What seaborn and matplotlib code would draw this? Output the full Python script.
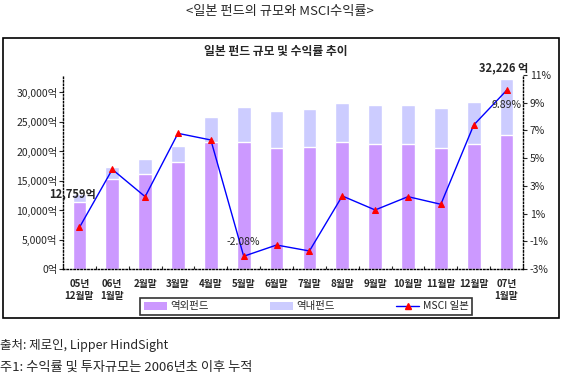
import matplotlib
matplotlib.use("Agg")
import matplotlib.pyplot as plt
import seaborn as sns
import pandas as pd
import numpy as np
from matplotlib.patches import Rectangle, Patch
from matplotlib.lines import Line2D

categories = ["05년\n12월말", "06년\n1월말", "2월말", "3월말", "4월말", "5월말", "6월말",
              "7월말", "8월말", "9월말", "10월말", "11월말", "12월말", "07년\n1월말"]
offshore = [11400, 15200, 16150, 18190, 21580, 21580, 20510, 20680, 21580, 21190, 21190, 20510, 21190, 22710]
total = [12759, 17340, 18700, 20900, 25760, 27460, 26780, 27120, 28140, 27800, 27800, 27290, 28300, 32226]
msci = [0.0, 4.19, 2.22, 6.79, 6.31, -2.08, -1.27, -1.70, 2.27, 1.26, 2.22, 1.67, 7.39, 9.89]
left_ticks = [0, 5000, 10000, 15000, 20000, 25000, 30000]
right_ticks = [-3, -1, 1, 3, 5, 7, 9, 11]

sns.set_theme(style="white")
plt.rcParams['font.family'] = ['Noto Sans CJK KR', 'DejaVu Sans']

df = pd.DataFrame({"cat": categories, "offshore": offshore, "total": total, "msci": msci})

fig = plt.figure(figsize=(5.64, 3.78), dpi=100)
W, H = 564, 378
ax = fig.add_axes([63 / W, 1 - 269 / H, 460 / W, 194 / H])

sns.barplot(data=df, x="cat", y="total", color="#CCCCFF", width=0.42, ax=ax, saturation=1)
sns.barplot(data=df, x="cat", y="offshore", color="#CC99FF", width=0.42, ax=ax, saturation=1)
ax.set_ylim(0, 32900)
ax.set_xlim(-0.5, len(categories) - 0.5)
ax.set_yticks(left_ticks)
ax.set_yticklabels([f"{v:,}억" for v in left_ticks], fontsize=7.5)
ax.set_xlabel("")
ax.set_ylabel("")
ax.set_xticks(range(len(categories)))
ax.set_xticklabels(categories, fontsize=7, fontweight="bold", linespacing=1.3)
ax.tick_params(axis="x", length=0, pad=7)
ax.tick_params(axis="y", length=3, width=0.8, direction="out", pad=1, left=True)
ax.set_xticks(np.arange(-0.5, len(categories), 1), minor=True)
ax.tick_params(axis="x", which="minor", length=2, direction="in", bottom=True, width=0.8)
for s in ["left", "bottom"]:
    ax.spines[s].set_linestyle((0, (1, 1.5)))
    ax.spines[s].set_color("black")
    ax.spines[s].set_linewidth(1)
ax.spines["top"].set_visible(False)
ax.spines["right"].set_visible(False)

ax2 = ax.twinx()
sns.lineplot(x=np.arange(len(msci)), y=msci, ax=ax2, color="#0000FF", linewidth=1,
             marker="^", markersize=5, markerfacecolor="#FF0000", markeredgecolor="#FF0000")
ax2.set_ylim(-3, 11)
ax2.set_yticks(right_ticks)
ax2.set_yticklabels([f"{v}%" for v in right_ticks], fontsize=7.5)
ax2.tick_params(axis="y", length=3, width=0.8, direction="out", pad=2, right=True)
ax2.spines["right"].set_linestyle((0, (1, 1.5)))
ax2.spines["right"].set_color("black")
ax2.spines["right"].set_linewidth(1)
for s in ["top", "left", "bottom"]:
    ax2.spines[s].set_visible(False)
ax2.set_xlim(-0.5, len(categories) - 0.5)

# data labels
ax.text(-0.21, total[0], f"{total[0]:,}억", ha="center", va="center", fontsize=8,
        fontweight="bold")
ax.text(12.92, total[-1] + 1870, f"{total[-1]:,} 억", ha="center", va="center", fontsize=8,
        fontweight="bold", clip_on=False)
ax2.text(13.0, msci[-1] - 1.05, f"{msci[-1]:.2f}%", ha="center", va="center", fontsize=7.5)
ax2.text(4.98, msci[5] + 1.03, f"{msci[5]:.2f}%", ha="center", va="center", fontsize=7.5)

# titles & notes
fig.text(280 / W, 1 - 12 / H, "<일본 펀드의 규모와 MSCI수익률>", ha="center", va="center", fontsize=9.5)
fig.text(276 / W, 1 - 51 / H, "일본 펀드 규모 및 수익률 추이", ha="center", va="center",
         fontsize=8.5, fontweight="bold")
fig.text(0 / W, 1 - 345 / H, "출처: 제로인, Lipper HindSight", ha="left", va="center", fontsize=9)
fig.text(0 / W, 1 - 367 / H, "주1: 수익률 및 투자규모는 2006년초 이후 누적", ha="left", va="center", fontsize=9.5)

# outer box
fig.patches.append(Rectangle((3 / W, 1 - 318 / H), 556 / W, 280 / H, transform=fig.transFigure,
                             fill=False, edgecolor="black", linewidth=1.2))

handles = [Patch(facecolor="#CC99FF", edgecolor="none"),
           Patch(facecolor="#CCCCFF", edgecolor="none"),
           Line2D([0], [0], color="#0000FF", lw=1, marker="^", markersize=5,
                  markerfacecolor="#FF0000", markeredgecolor="#FF0000")]
leg = fig.legend(handles, ["역외펀드", "역내펀드", "MSCI 일본"], loc="center",
                 bbox_to_anchor=(306 / W, 1 - 306.5 / H), ncol=3, frameon=True, fancybox=False,
                 fontsize=7.5, handlelength=2.3, handleheight=0.7, handletextpad=0.3,
                 columnspacing=5.8, borderpad=0.3)
leg.get_frame().set_edgecolor("black")
leg.get_frame().set_linewidth(1.2)

fig.savefig("out.png", dpi=100)
